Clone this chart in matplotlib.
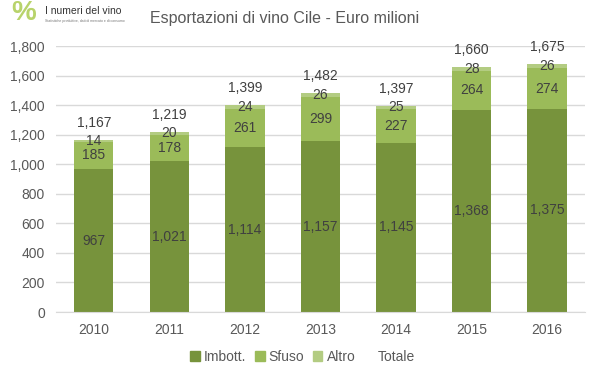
import matplotlib.pyplot as plt
import numpy as np
from matplotlib.patches import Patch

plt.rcParams['font.family'] = ['Liberation Sans', 'DejaVu Sans']

years = ['2010', '2011', '2012', '2013', '2014', '2015', '2016']
imbott = [967, 1021, 1114, 1157, 1145, 1368, 1375]
sfuso = [185, 178, 261, 299, 227, 264, 274]
altro = [14, 20, 24, 26, 25, 28, 26]
totale = [1167, 1219, 1399, 1482, 1397, 1660, 1675]

c_imb = '#77933C'
c_sfu = '#9BBB59'
c_alt = '#B3CC82'
txt = '#404040'

fig = plt.figure(figsize=(5.99, 3.78), dpi=100)
ax = fig.add_axes([0.0935, 0.1746, 0.883, 0.7037])

x = np.arange(len(years))
w = 0.52
imb = np.array(imbott)
sfu = np.array(sfuso)
alt = np.array(altro)

ax.bar(x, imb, w, color=c_imb, zorder=2)
ax.bar(x, sfu, w, bottom=imb, color=c_sfu, zorder=2)
ax.bar(x, alt, w, bottom=imb + sfu, color=c_alt, zorder=2)

for i in range(len(years)):
    ax.text(x[i], imb[i] / 2, f'{imbott[i]:,}', ha='center', va='center', fontsize=10, color=txt, zorder=3)
    ax.text(x[i], imb[i] + sfu[i] / 2, f'{sfuso[i]:,}', ha='center', va='center', fontsize=10, color=txt, zorder=3)
    ax.text(x[i], imb[i] + sfu[i] + alt[i] / 2, f'{altro[i]:,}', ha='center', va='center', fontsize=10, color=txt, zorder=3)
    ax.text(x[i], totale[i] + 115, f'{totale[i]:,}', ha='center', va='center', fontsize=10, color=txt, zorder=3)

ax.set_xlim(-0.5, len(years) - 0.5)
ax.set_ylim(0, 1800)
ax.set_yticks(range(0, 1801, 200))
ax.set_yticklabels([f'{v:,}' for v in range(0, 1801, 200)])
ax.set_xticks(x)
ax.set_xticklabels(years)
ax.tick_params(length=0, labelsize=10, colors='#595959', pad=8)
ax.grid(axis='y', color='#D9D9D9', linewidth=1, zorder=0)
for s in ['top', 'right', 'left']:
    ax.spines[s].set_visible(False)
ax.spines['bottom'].set_color('#D9D9D9')

fig.text(0.475, 0.952, 'Esportazioni di vino Cile - Euro milioni', ha='center', va='center',
         fontsize=11.5, color='#595959')

# logo
fig.text(0.04, 0.965, '%', fontsize=20, color='#B8D36B', ha='center', va='center', fontweight='bold')
fig.text(0.075, 0.972, 'I numeri del vino', fontsize=7.5, color='#333333', ha='left', va='center')
fig.text(0.075, 0.945, 'Statistiche produttive, dati di mercato e di consumo', fontsize=2.5, color='#777777',
         ha='left', va='center')

handles = [Patch(color=c_imb, label='Imbott.'), Patch(color=c_sfu, label='Sfuso'),
           Patch(color=c_alt, label='Altro'), Patch(color='none', label='Totale')]
fig.legend(handles=handles, loc='center', bbox_to_anchor=(0.505, 0.055), ncol=4, frameon=False,
           fontsize=10, handlelength=0.7, handleheight=0.7, handletextpad=0.3, columnspacing=0.6,
           labelcolor='#595959')

fig.savefig('out.png', dpi=100)
